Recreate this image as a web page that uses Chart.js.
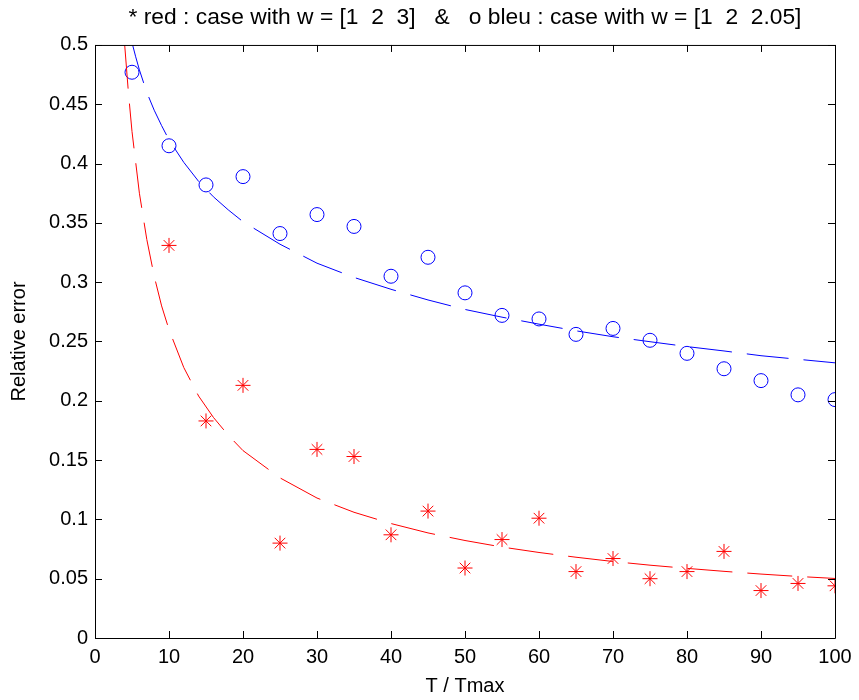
<!DOCTYPE html>
<html>
<head>
<meta charset="utf-8">
<script src="https://cdn.jsdelivr.net/npm/chart.js@4"></script>
<style>
  body { margin: 0; background: #fff; }
  canvas { display: block; }
</style>
</head>
<body>
<canvas id="myChart" width="859" height="700"></canvas>
<script>
let xPoints = [5, 10, 15, 20, 25, 30, 35, 40, 45, 50, 55, 60, 65, 70, 75, 80, 85, 90, 95, 100];
let redStars = [null, 0.331, 0.183, 0.213, 0.080, 0.159, 0.153, 0.087, 0.107, 0.059, 0.083, 0.101, 0.056, 0.067, 0.050, 0.056, 0.073, 0.040, 0.046, 0.044];
let blueCircles = [0.477, 0.415, 0.382, 0.389, 0.341, 0.357, 0.347, 0.305, 0.321, 0.291, 0.272, 0.269, 0.256, 0.261, 0.251, 0.240, 0.227, 0.217, 0.205, 0.201];

let redFitX = [4, 4.5, 5, 6, 7, 8, 9, 10, 12, 14, 16, 18, 20, 25, 30, 35, 40, 45, 50, 55, 60, 65, 70, 75, 80, 85, 90, 95, 100];
let redFit = [0.501, 0.461, 0.427, 0.375, 0.336, 0.305, 0.280, 0.260, 0.228, 0.204, 0.186, 0.171, 0.158, 0.135, 0.118, 0.106, 0.0965, 0.0886, 0.0822, 0.0767, 0.0721, 0.0681, 0.0645, 0.0614, 0.0587, 0.0562, 0.0539, 0.0519, 0.0502];

let blueFitX = [5, 5.5, 6, 7, 8, 9, 10, 12, 14, 16, 18, 20, 25, 30, 35, 40, 45, 50, 55, 60, 65, 70, 75, 80, 85, 90, 95, 100];
let blueFit = [0.502, 0.490, 0.479, 0.460, 0.445, 0.432, 0.420, 0.401, 0.385, 0.372, 0.361, 0.351, 0.332, 0.316, 0.304, 0.294, 0.285, 0.277, 0.2705, 0.2646, 0.259, 0.254, 0.2498, 0.2457, 0.242, 0.238, 0.235, 0.232];

let xTicks = [0, 10, 20, 30, 40, 50, 60, 70, 80, 90, 100];
let yTicks = [0, 0.05, 0.1, 0.15, 0.2, 0.25, 0.3, 0.35, 0.4, 0.45, 0.5];

const FONT = "'Liberation Sans', Arial, Helvetica, sans-serif";

function pairs(xs, ys) {
    let out = [];
    for (let i = 0; i < xs.length; i++) {
        if (ys[i] !== null) out.push({ x: xs[i], y: ys[i] });
    }
    return out;
}

// box round the axes with inward ticks on all four sides (matlab look)
let boxPlugin = {
    id: 'box',
    afterDraw(chart) {
        let ctx = chart.ctx;
        let a = chart.chartArea;
        let xs = chart.scales.x, ys = chart.scales.y;
        let len = 7;
        ctx.save();
        ctx.strokeStyle = '#000';
        ctx.lineWidth = 1;
        ctx.beginPath();
        ctx.rect(a.left + 0.5, a.top + 0.5, a.right - a.left, a.bottom - a.top);
        xTicks.forEach(v => {
            let px = Math.round(xs.getPixelForValue(v)) + 0.5;
            ctx.moveTo(px, a.bottom); ctx.lineTo(px, a.bottom - len);
            ctx.moveTo(px, a.top); ctx.lineTo(px, a.top + len);
        });
        yTicks.forEach(v => {
            let py = Math.round(ys.getPixelForValue(v)) + 0.5;
            ctx.moveTo(a.left, py); ctx.lineTo(a.left + len, py);
            ctx.moveTo(a.right, py); ctx.lineTo(a.right - len, py);
        });
        ctx.stroke();
        ctx.restore();
    }
};

let myChart = document.getElementById("myChart").getContext('2d');

let chart = new Chart(myChart, {
    type: 'scatter',
    data: {
        datasets: [
            {
                data: pairs(redFitX, redFit),
                showLine: true,
                borderColor: '#ff0000',
                borderWidth: 1,
                borderDash: [45, 15],
                pointRadius: 0,
                tension: 0
            },
            {
                data: pairs(blueFitX, blueFit),
                showLine: true,
                borderColor: '#0000ff',
                borderWidth: 1,
                borderDash: [42, 15],
                pointRadius: 0,
                tension: 0
            },
            {
                data: pairs(xPoints, redStars),
                pointStyle: 'star',
                pointRadius: 7.5,
                borderColor: '#ff0000',
                backgroundColor: '#ff0000',
                pointBorderWidth: 1
            },
            {
                data: pairs(xPoints, blueCircles),
                pointStyle: 'circle',
                pointRadius: 7,
                borderColor: '#0000ff',
                backgroundColor: 'rgba(0,0,0,0)',
                pointBorderWidth: 1
            }
        ]
    },
    options: {
        responsive: false,
        animation: false,
        events: [],
        layout: { padding: { left: 0, right: 24, top: 0, bottom: 0 } },
        plugins: {
            legend: { display: false },
            tooltip: { enabled: false },
            title: {
                display: true,
                fullSize: false,
                text: '* red : case with w = [1  2  3]   &   o bleu : case with w = [1  2  2.05]',
                color: '#000',
                font: { family: FONT, size: 22.8, weight: 'normal', lineHeight: 1.2 },
                padding: { top: 4, bottom: 13.6 }
            }
        },
        scales: {
            x: {
                type: 'linear',
                min: 0,
                max: 100,
                grid: { display: false, drawTicks: false },
                border: { display: false },
                afterBuildTicks: axis => { axis.ticks = xTicks.map(v => ({ value: v })); },
                afterFit: axis => { axis.height = 62; },
                ticks: {
                    color: '#000',
                    padding: 7,
                    maxRotation: 0,
                    font: { family: FONT, size: 20 }
                },
                title: {
                    display: true,
                    text: 'T / Tmax',
                    color: '#000',
                    font: { family: FONT, size: 20 },
                    padding: { top: 0, bottom: 2 }
                }
            },
            y: {
                type: 'linear',
                min: 0,
                max: 0.5,
                grid: { display: false, drawTicks: false },
                border: { display: false },
                afterBuildTicks: axis => { axis.ticks = yTicks.map(v => ({ value: v })); },
                afterFit: axis => { axis.width = 95; },
                ticks: {
                    color: '#000',
                    padding: 7,
                    font: { family: FONT, size: 20 },
                    callback: v => String(v)
                },
                title: {
                    display: true,
                    text: 'Relative error',
                    color: '#000',
                    font: { family: FONT, size: 20 },
                    padding: { top: 7, bottom: 0 }
                }
            }
        }
    },
    plugins: [boxPlugin]
});
</script>
</body>
</html>
